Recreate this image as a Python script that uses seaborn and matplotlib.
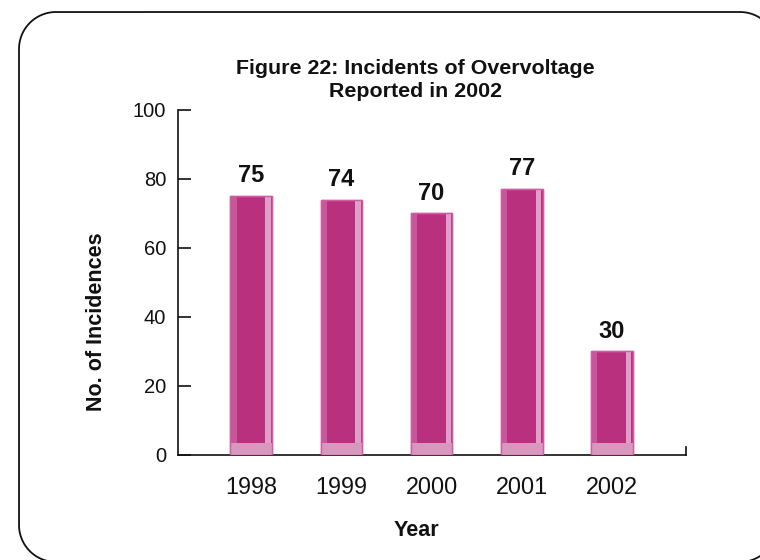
import matplotlib
matplotlib.use("Agg")
import matplotlib.pyplot as plt
from matplotlib.patches import Rectangle, PathPatch
from matplotlib.path import Path
from matplotlib.transforms import IdentityTransform
import numpy as np
import seaborn as sns
import pandas as pd

years = ["1998", "1999", "2000", "2001", "2002"]
incidents = [75, 74, 70, 77, 30]

sns.set_style("white")
plt.rcParams["font.family"] = ["Liberation Sans", "DejaVu Sans"]

fig = plt.figure(figsize=(7.6, 5.6), dpi=100)
ax = fig.add_axes([0.2342, 0.1875, 0.6684, 0.6161])

df = pd.DataFrame({"Year": years, "Incidents": incidents})
sns.barplot(data=df, x="Year", y="Incidents", color="#B8307E", width=0.46,
            saturation=1, ax=ax, zorder=2)

main = "#B8307E"
left_strip = "#C6579A"
right_strip = "#DDA0C6"
base_col = "#D898BD"
edge_col = "#D25CA4"

for patch, val in zip(ax.patches, incidents):
    x0 = patch.get_x()
    w = patch.get_width()
    patch.set_facecolor(main)
    patch.set_edgecolor(edge_col)
    patch.set_linewidth(1.0)
    # lighter side strips and base block give the bar a tube-like look
    ax.add_patch(Rectangle((x0, 0), w * 0.15, val, facecolor=left_strip,
                           edgecolor="none", zorder=3))
    ax.add_patch(Rectangle((x0 + w * 0.84, 0), w * 0.13, val,
                           facecolor=right_strip, edgecolor="none", zorder=3))
    ax.add_patch(Rectangle((x0, 0), w, 3.4, facecolor=base_col,
                           edgecolor="none", zorder=3))
    ax.add_patch(Rectangle((x0, 0), w, val, facecolor="none",
                           edgecolor=edge_col, linewidth=1.0, zorder=4))
    ax.annotate(f"{val}", (x0 + w / 2, val), xytext=(0, 10),
                textcoords="offset points", ha="center", va="baseline",
                fontsize=17, fontweight="bold", color="#111111")

ax.set_xlim(-0.81, 4.82)
ax.set_ylim(0, 100)
ax.set_yticks([0, 20, 40, 60, 80, 100])

ax.spines["top"].set_visible(False)
for s in ["left", "bottom", "right"]:
    ax.spines[s].set_color("#111111")
    ax.spines[s].set_linewidth(1.2)
ax.spines["right"].set_bounds(0, 2.4)

ax.tick_params(axis="y", left=True, direction="in", length=9, width=1.2,
               colors="#111111", labelsize=14.5, pad=8.5)
ax.tick_params(axis="x", bottom=False, length=0, labelsize=16.8, pad=15,
               colors="#111111")

ax.set_xlabel("")
ax.set_ylabel("")
fig.text(416 / 760, 1 - 530 / 560, "Year", ha="center", va="center",
         fontsize=15.5, fontweight="bold", color="#111111")
fig.text(96 / 760, 1 - 322 / 560, "No. of Incidences", ha="center",
         va="center", rotation=90, fontsize=15.5, fontweight="bold",
         color="#111111")

fig.text(415.5 / 760, 1 - 80 / 560,
         "Figure 22: Incidents of Overvoltage\nReported in 2002",
         ha="center", va="center", fontsize=15.4, fontweight="bold",
         linespacing=1.3, color="#111111")


# rounded border around the whole figure, built in pixel units
def rounded_frame(x0, y0, x1, y1, r, n=40):
    pts = []
    corners = [((x1 - r, y1 - r), 0, 90), ((x0 + r, y1 - r), 90, 180),
               ((x0 + r, y0 + r), 180, 270), ((x1 - r, y0 + r), 270, 360)]
    for (cx, cy), a0, a1 in corners:
        t = np.radians(np.linspace(a0, a1, n))
        pts.extend(zip(cx + r * np.cos(t), cy + r * np.sin(t)))
    pts.append(pts[0])
    return Path(np.array(pts))


H = 560
frame = PathPatch(rounded_frame(19, H - 562, 777, H - 12, 37),
                  transform=IdentityTransform(), facecolor="none",
                  edgecolor="#111111", linewidth=1.3, clip_on=False)
fig.patches.append(frame)

fig.savefig("out.png", dpi=100)
